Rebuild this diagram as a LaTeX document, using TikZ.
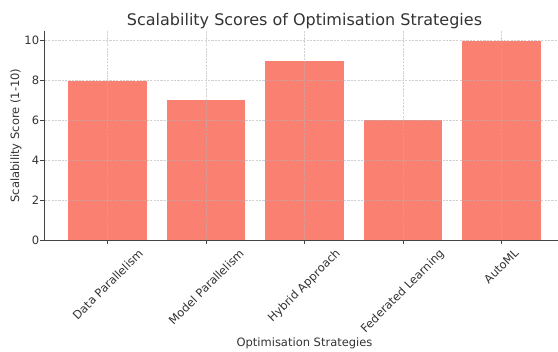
\documentclass[tikz,border=0pt]{standalone}
\usepackage{fontspec}
\setmainfont{DejaVu Sans}
\usepackage{graphicx}
\definecolor{barfill}{HTML}{FA8072}
\definecolor{ink}{HTML}{333333}
\definecolor{gridcol}{HTML}{B4B4B4}
\definecolor{spinecol}{HTML}{444444}
\newcommand\labelfont{\fontsize{11.5}{13}\selectfont}
\tikzset{
  bar/.style={fill=barfill},
  gridline/.style={draw=gridcol, draw opacity=0.6, line width=0.6pt, dash pattern=on 2.2pt off 1.2pt},
  spine/.style={draw=spinecol, line width=0.9pt},
  tickmark/.style={draw=spinecol, line width=0.8pt},
  ticklabel/.style={text=ink, font=\labelfont, inner sep=0pt},
  axislabel/.style={text=ink, font=\labelfont, inner sep=0pt},
  titlelabel/.style={text=ink, font=\fontsize{16}{18}\selectfont, inner sep=0pt}
}
\begin{document}
\begin{tikzpicture}[x=1pt,y=-1pt]
\useasboundingbox (0,0) rectangle (558,352);
% axes geometry: x = 107.7 + 98.4 i, y = 240 - 19.93 v
\def\xl{44.7}
\def\yb{240}
\def\yt{30.7}
% bars
\foreach \i/\v in {0/8,1/7,2/9,3/6,4/10}{
  \pgfmathsetmacro{\cx}{107.7+98.4*\i}
  \pgfmathsetmacro{\top}{240-19.93*\v}
  \fill[bar] (\cx-39.35,\yb) rectangle (\cx+39.35,\top);
}
% grid (drawn over the bars)
\foreach \v in {2,4,6,8,10}{
  \pgfmathsetmacro{\gy}{240-19.93*\v}
  \draw[gridline] (\xl,\gy) -- (558,\gy);
}
\foreach \i in {0,...,4}{
  \pgfmathsetmacro{\cx}{107.7+98.4*\i}
  \draw[gridline] (\cx,\yt) -- (\cx,\yb);
}
% spines
\draw[spine] (\xl,\yt) -- (\xl,\yb) -- (558,\yb);
% y ticks and labels
\foreach \v in {0,2,4,6,8,10}{
  \pgfmathsetmacro{\gy}{240-19.93*\v}
  \draw[tickmark] (\xl,\gy) -- (\xl-4.3,\gy);
  \node[ticklabel, anchor=east] (ytick\v) at (39.3,\gy) {\v};
}
% x ticks and rotated labels, each centred under its tick
\foreach \i/\name in {0/Data Parallelism,1/Model Parallelism,2/Hybrid Approach,3/Federated Learning,4/AutoML}{
  \pgfmathsetmacro{\cx}{107.7+98.4*\i}
  \draw[tickmark] (\cx,\yb) -- (\cx,\yb+4.3);
  \node[ticklabel, anchor=north] (xtick\i) at (\cx,248) {\rotatebox{45}{\name}};
}
% axis labels and title
\node[axislabel, rotate=90] (ylab) at (16,135.5) {Scalability Score (1-10)};
\node[axislabel, anchor=base] (xlab) at (304.5,347) {Optimisation Strategies};
\node[titlelabel, anchor=base] (title) at (304.5,25.5) {Scalability Scores of Optimisation Strategies};
\end{tikzpicture}
\end{document}
